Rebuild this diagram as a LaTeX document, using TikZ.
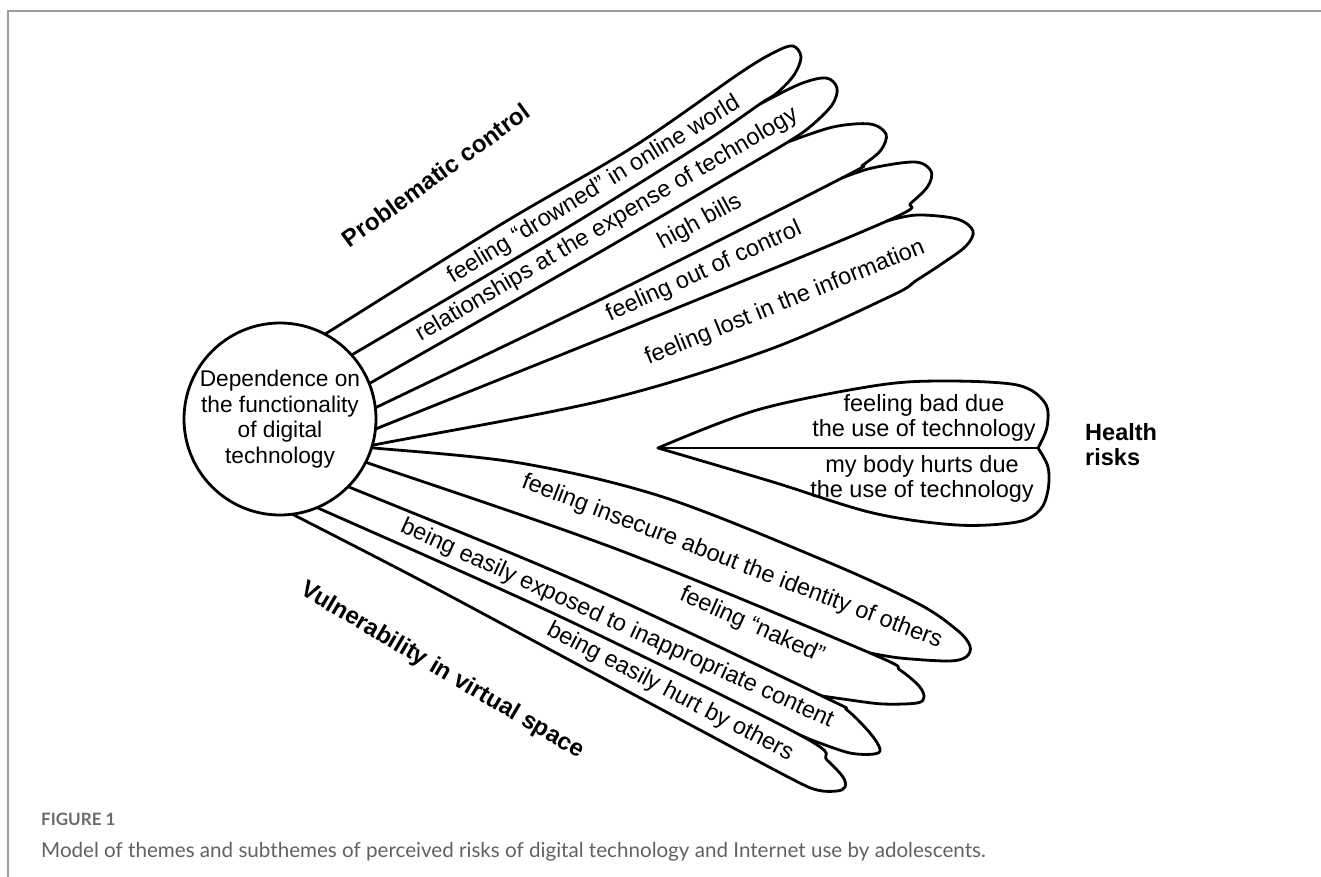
\documentclass[tikz,border=0pt]{standalone}
\usepackage{fontspec}
\setmainfont{Liberation Sans}
\newfontfamily\capfont{Lato}
\begin{document}
\begin{tikzpicture}[x=1pt,y=-1pt,
  petal/.style={line width=2.8pt, line join=round, line cap=round},
  frame/.style={draw=black!38, line width=1.4pt},
  lbl/.style={inner sep=0pt, font=\fontsize{23.5}{26}\selectfont},
  theme/.style={inner sep=0pt, font=\fontsize{24}{26}\selectfont\bfseries},
  lobe/.style={inner sep=0pt, align=center, font=\fontsize{23.5}{25.5}\selectfont},
  hub/.style={circle, draw, line width=2.8pt, fill=white, minimum size=192pt,
              inner sep=0pt, align=center, font=\fontsize{22.7}{25.5}\selectfont},
  captitle/.style={inner sep=0pt, anchor=base west, text=black!58,
                   font=\capfont\bfseries\fontsize{17}{20}\selectfont},
  captext/.style={inner sep=0pt, anchor=base west, text=black!62,
                  font=\capfont\fontsize{20.6}{24}\selectfont},
]
\useasboundingbox (0,0) rectangle (1321,877);
\draw[frame] (8,877) -- (8,11) -- (1321,11);

% upper fan: five petals sharing their boundary lines
\draw[petal] plot[smooth, tension=0.55] coordinates {(318,338) (330,331) (500,225) (633,147) (740,73) (775,52) (793,46) (801,57) (794,75) (777,93) (760,104) (700,145) (560,232) (355,353) (343,360)};
\draw[petal] plot[smooth, tension=0.55] coordinates {(760,104) (800,84) (826,78) (837,88) (832,105) (811,126) (788,142) (730,176) (600,252) (372,382) (360,389)};
\draw[petal] plot[smooth, tension=0.55] coordinates {(788,142) (833,127) (870,124) (886,134) (881,150) (863,165) (842,178) (620,290) (377,407) (365,413)};
\draw[petal] plot[smooth, tension=0.55] coordinates {(842,178) (872,168) (915,162) (931,171) (928,186) (911,203) (887,221) (640,323) (378,428) (366,433)};
\draw[petal] plot[smooth, tension=0.55] coordinates {(887,221) (917,215) (957,219) (973,231) (966,246) (943,263) (917,280) (891,296) (768,350) (605,400) (384,443) (358,448)};

% lower fan: four petals
\draw[petal] plot[smooth, tension=0.55] coordinates {(360,447) (374,448) (520,463) (663,497) (823,560) (917,603) (957,630) (970,646) (966,657) (948,661) (900,658) (870,653)};
\draw[petal] plot[smooth, tension=0.55] coordinates {(355,458) (368,463) (619,550) (870,653) (900,670) (919,686) (924,697) (917,703) (883,704) (850,700) (822,696)};
\draw[petal] plot[smooth, tension=0.55] coordinates {(336,482) (349,487) (586,585) (822,696) (847,710) (870,733) (880,749) (874,754) (850,753) (817,742) (800,735)};
\draw[petal] plot[smooth, tension=0.55] coordinates {(305,502) (318,508) (559,616) (800,735) (827,760) (843,777) (845,787) (837,791) (817,790) (790,778) (700,730) (560,655) (420,580) (290,513) (277,507)};

% detached double lobe
\coordinate (hp) at (658,448);
\coordinate (hq) at (1038,448);
\draw[petal] (hp) -- (hq);
\draw[petal] plot[smooth, tension=0.55] coordinates {(658,448) (757,410) (873,386) (940,381) (1017,385) (1045,403) (1047,427) (1038,448)};
\draw[petal] plot[smooth, tension=0.55] coordinates {(658,448) (773,482) (873,513) (957,525) (1017,522) (1040,510) (1048,490) (1048,467) (1038,448)};

% central hub
\node[hub] (hub) at (280,419) {Dependence on\\the functionality\\of digital\\technology};

% petal labels
\node[lbl, rotate=31.5] (p1) at (594,190) {feeling “drowned” in online world};
\node[lbl, rotate=30.5] (p2) at (607,225) {relationships at the expense of technology};
\node[lbl, rotate=28.5] (p3) at (700,222) {high bills};
\node[lbl, rotate=24.5] (p4) at (704,272) {feeling out of control};
\node[lbl, rotate=22]   (p5) at (785,303) {feeling lost in the information};

\node[lbl, rotate=-21]   (v1) at (732,562) {feeling insecure about the identity of others};
\node[lbl, rotate=-24]   (v2) at (752,626) {feeling “naked”};
\node[lbl, rotate=-24.5] (v3) at (617,624) {being easily exposed to inappropriate content};
\node[lbl, rotate=-27.5] (v4) at (670,692) {being easily hurt by others};

\node[lobe] (h1) at (924,418) {feeling bad due\\the use of technology};
\node[lobe] (h2) at (922,479) {my body hurts due\\the use of technology};

% theme titles
\node[theme, rotate=36]    (t1) at (436,175) {Problematic control};
\node[theme, rotate=-30.5] (t2) at (442,671) {Vulnerability in virtual space};
\node[theme, align=left, anchor=north west, font=\fontsize{23.5}{25.5}\selectfont\bfseries] (t3) at (1085,423) {Health\\risks};

% caption
\node[captitle] (cap1) at (41,825) {FIGURE 1};
\node[captext] (cap2) at (41,857) {Model of themes and subthemes of perceived risks of digital technology and Internet use by adolescents.};
\end{tikzpicture}
\end{document}
